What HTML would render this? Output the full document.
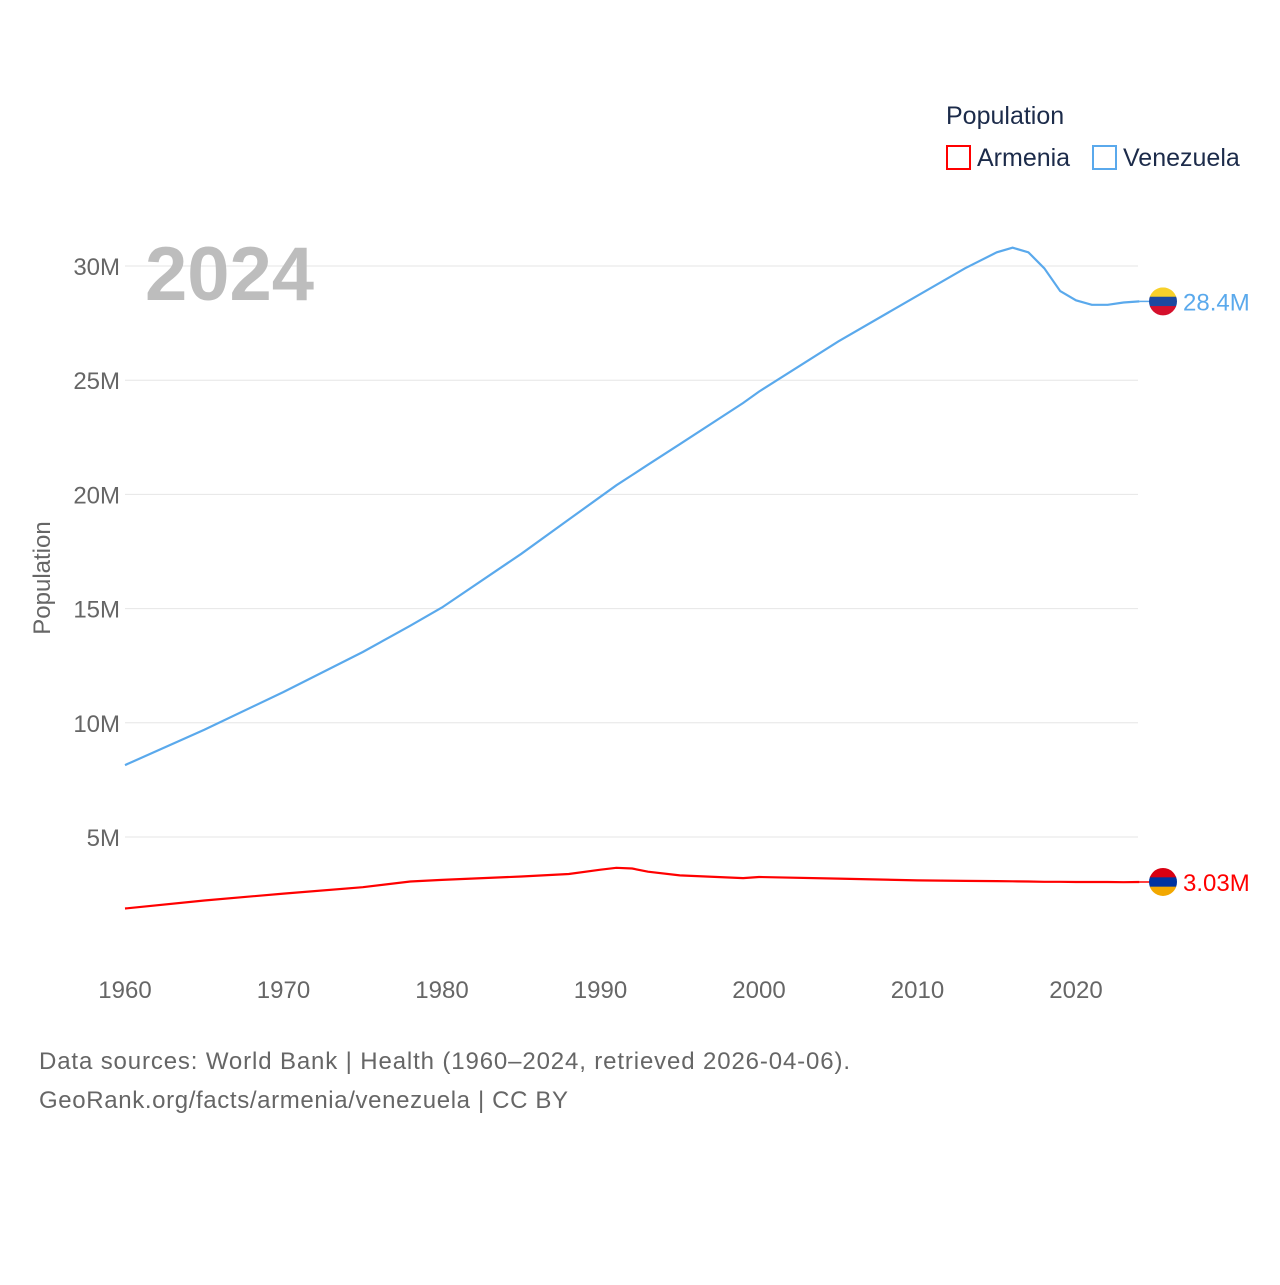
<!DOCTYPE html>
<html><head><meta charset="utf-8"><style>
body{margin:0;background:#fff;font-family:"Liberation Sans",sans-serif;}
svg text{font-family:"Liberation Sans",sans-serif;}
</style></head><body>
<svg id="chart" width="1280" height="1280" xmlns="http://www.w3.org/2000/svg">
<rect width="1280" height="1280" fill="#fff"/>
<g id="grid"></g>
<g id="yticks"></g>
<g id="xticks"></g>
<text x="145" y="300" font-size="76" font-weight="bold" fill="#bdbdbd">2024</text>
<text transform="translate(50,578) rotate(-90)" text-anchor="middle" font-size="24" fill="#666">Population</text>
<text x="946" y="124" font-size="25" fill="#1c2b4a">Population</text>
<g><rect x="947" y="146" width="23" height="23" fill="none" stroke="#f00" stroke-width="2"/><text x="977" y="166" font-size="25" fill="#1c2b4a">Armenia</text></g>
<g><rect x="1093" y="146" width="23" height="23" fill="none" stroke="#5aa9ec" stroke-width="2"/><text x="1123" y="166" font-size="25" fill="#1c2b4a">Venezuela</text></g>
<g id="series"></g>
<text x="39" y="1069" font-size="24" fill="#666" textLength="811" lengthAdjust="spacing">Data sources: World Bank | Health (1960–2024, retrieved 2026-04-06).</text>
<text x="39" y="1108" font-size="24" fill="#666" textLength="529" lengthAdjust="spacing">GeoRank.org/facts/armenia/venezuela | CC BY</text>
</svg>
<script>
const years=[1960,1965,1970,1975,1978,1980,1985,1988,1990,1991,1992,1993,1995,1999,2000,2005,2010,2013,2015,2016,2017,2018,2019,2020,2021,2022,2023,2024];
const venezuela=[8.15,9.7,11.35,13.1,14.25,15.05,17.4,18.9,19.9,20.4,20.85,21.3,22.2,24.0,24.5,26.7,28.7,29.9,30.6,30.8,30.6,29.9,28.9,28.5,28.3,28.3,28.4,28.45];
const armenia=[1.87,2.22,2.52,2.8,3.05,3.12,3.27,3.38,3.57,3.65,3.62,3.48,3.32,3.2,3.25,3.18,3.1,3.08,3.07,3.06,3.05,3.04,3.04,3.03,3.03,3.03,3.02,3.03];
const yTicks=[5,10,15,20,25,30];
const xTicks=[1960,1970,1980,1990,2000,2010,2020];
const NS="http://www.w3.org/2000/svg";
const X=y=>125+(y-1960)*15.85;
const Y=v=>951.2-v*22.84;
function mk(t,a,p){const e=document.createElementNS(NS,t);for(const k in a)e.setAttribute(k,a[k]);p.appendChild(e);return e;}
const grid=document.getElementById('grid'),yt=document.getElementById('yticks'),xt=document.getElementById('xticks'),ser=document.getElementById('series');
yTicks.forEach(v=>{
 const l=mk('line',{x1:125,x2:1138,y1:Y(v),y2:Y(v),stroke:'#e6e6e6','stroke-width':1},grid);
 
 
 const t=mk('text',{x:120,y:Y(v)+9,'text-anchor':'end','font-size':24,fill:'#666'},yt);
 t.textContent=v+'M';
 
 
});
xTicks.forEach(v=>{
 const t=mk('text',{x:X(v),y:998,'text-anchor':'middle','font-size':24,fill:'#666'},xt);
 t.textContent=v;
 
 
});
function line(vals,color,name,label,flag){
 const d=vals.map((v,i)=>(i?'L':'M')+X(years[i]).toFixed(1)+','+Y(v).toFixed(1)).join('');
 const p=mk('path',{d:d,fill:'none',stroke:color,'stroke-width':2.2},ser);
 
 
 const last=vals[vals.length-1],ly=Y(last);
 const c=mk('line',{x1:X(2024),x2:1150,y1:ly,y2:ly,stroke:color,'stroke-width':1.5},ser);
 
 
 const g=mk('g',{},ser);
 
 
 const cp=mk('clipPath',{id:'cp'+name},g);mk('circle',{cx:1163,cy:ly,r:14},cp);
 const gg=mk('g',{'clip-path':'url(#cp'+name+')'},g);
 flag.forEach((f,i)=>mk('rect',{x:1149,y:ly-14+i*28/3,width:28,height:28/3+0.5,fill:f},gg));
 const t=mk('text',{x:1183,y:ly+9,'font-size':24,fill:color},ser);
 t.textContent=label;
 
 
}
line(venezuela,'#5aa9ec','venezuela','28.4M',['#f7d02a','#1c49a0','#d5102c']);
line(armenia,'#ff0000','armenia','3.03M',['#d90012','#0033a0','#f2a800']);
</script>
</body></html>
